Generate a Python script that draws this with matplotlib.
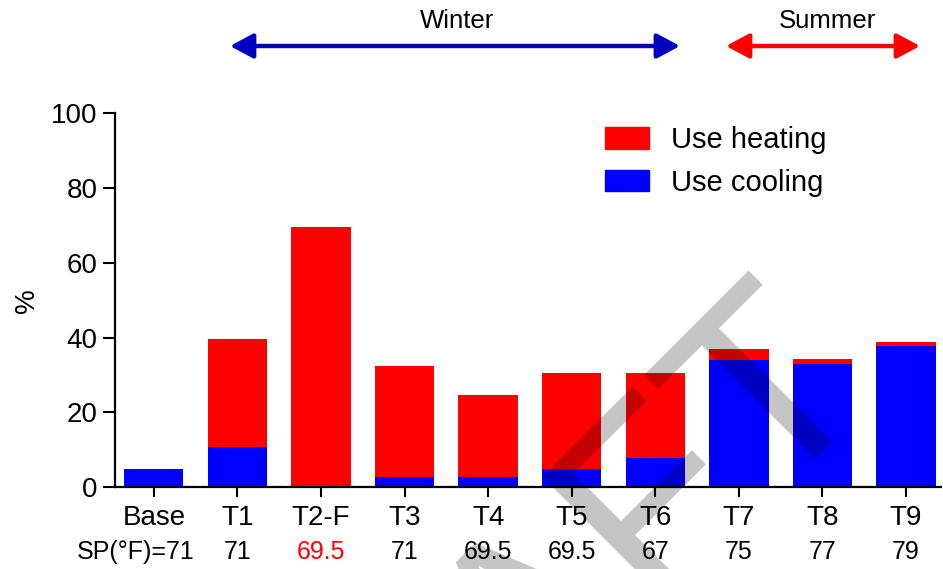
import matplotlib
matplotlib.use("Agg")
import matplotlib.pyplot as plt
from matplotlib.patches import FancyArrowPatch, Patch
import numpy as np

plt.rcParams['font.family'] = ['Liberation Sans', 'DejaVu Sans']

# data
labels = ['Base', 'T1', 'T2-F', 'T3', 'T4', 'T5', 'T6', 'T7', 'T8', 'T9']
setpoints = ['SP(°F)=71', '71', '69.5', '71', '69.5', '69.5', '67', '75', '77', '79']
sp_colors = ['black', 'black', 'red', 'black', 'black', 'black', 'black', 'black', 'black', 'black']
cooling = [4.7, 10.8, 0.0, 2.8, 2.6, 4.8, 7.7, 34.0, 32.9, 37.8]
heating = [0.0, 28.7, 69.5, 29.7, 22.0, 25.8, 22.9, 2.8, 1.3, 1.0]
yticks = [0, 20, 40, 60, 80, 100]

fig = plt.figure(figsize=(9.43, 5.69), dpi=100)
ax = fig.add_axes([0.122, 0.144, 0.876, 0.657])

x = np.arange(len(labels))
ax.bar(x, cooling, width=0.71, color='#0000ff', zorder=2, label='Use cooling')
ax.bar(x, heating, width=0.71, bottom=cooling, color='#ff0000', zorder=2, label='Use heating')

# dotted zero line under the bars
ax.axhline(0, color='#333333', lw=2.5, ls=(0, (0.3, 2.2)), zorder=1.5)

ax.set_xlim(-0.464, 9.42)
ax.set_ylim(0, 100)
ax.set_yticks(yticks)
ax.set_xticks(x)
ax.set_xticklabels(labels, fontsize=20)
ax.tick_params(axis='y', labelsize=20, length=9, width=1.5, pad=3.5)
ax.tick_params(axis='x', length=7, width=1.5, pad=6)
for s in ['top', 'right']:
    ax.spines[s].set_visible(False)
for s in ['left', 'bottom']:
    ax.spines[s].set_linewidth(1.6)
ax.set_ylabel('%', fontsize=20, labelpad=8)

# set point row under the tick labels
for i, (t, c) in enumerate(zip(setpoints, sp_colors)):
    if i == 0:
        ax.text(i + 0.49, -0.174, t, transform=ax.get_xaxis_transform(),
                ha='right', va='center', fontsize=18, color=c)
    else:
        ax.text(i, -0.174, t, transform=ax.get_xaxis_transform(),
                ha='center', va='center', fontsize=18, color=c)

handles = [Patch(color='#ff0000', label='Use heating'), Patch(color='#0000ff', label='Use cooling')]
ax.legend(handles=handles, loc='upper left', bbox_to_anchor=(0.642, 0.778),
          bbox_transform=fig.transFigure, frameon=False, fontsize=21,
          handlelength=1.5, handleheight=0.75, handletextpad=0.75,
          labelspacing=0.5, borderpad=0, borderaxespad=0)

# season arrows on top
W, H = 943.0, 569.0
def season(x0, x1, y, col, txt, tx):
    arr = FancyArrowPatch((x0 / W, 1 - y / H), (x1 / W, 1 - y / H), transform=fig.transFigure,
                          arrowstyle='<|-|>,head_length=14,head_width=7.5', mutation_scale=1,
                          color=col, lw=3.2, shrinkA=0, shrinkB=0)
    fig.add_artist(arr)
    fig.text(tx / W, 1 - 21 / H, txt, ha='center', va='center', fontsize=18.5)

season(230, 680, 46, '#0000c0', 'Winter', 457)
season(726, 920, 46, '#ff0000', 'Summer', 827)

# DRAFT watermark
fig.text(875 / W, 1 - 377 / H, 'DRAFT', rotation=45, rotation_mode='anchor',
         ha='right', va='baseline', fontsize=188, color='black', alpha=0.23, zorder=10)

fig.savefig('out.png', dpi=100)
